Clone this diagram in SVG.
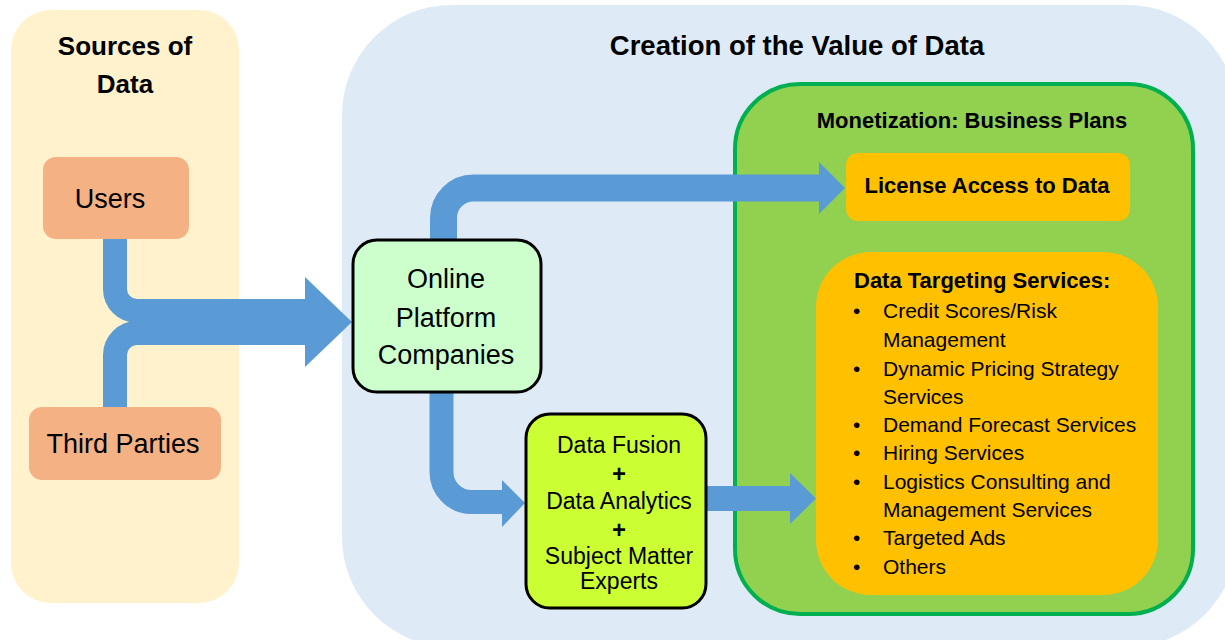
<svg xmlns="http://www.w3.org/2000/svg" width="1225" height="640" viewBox="0 0 1225 640">
<defs>
<style>
text{font-family:"Liberation Sans",Arial,sans-serif;fill:#000}
.t{font-weight:bold;text-anchor:middle}
.n{font-size:27px;text-anchor:middle}
.f{font-size:23px;text-anchor:middle}
.p{font-size:24px;font-weight:bold;text-anchor:middle}
.b{font-size:21px}
.arr{fill:none;stroke:#5B9BD5}
.head{fill:#5B9BD5}
</style>
</defs>
<rect width="1225" height="640" fill="#FFFFFF"/>
<g id="sources-panel">
<rect x="11" y="10" width="228" height="593" rx="40" fill="#FFF2CC"/>
<text class="t" x="125" y="55" font-size="26">Sources of</text>
<text class="t" x="125" y="93" font-size="26">Data</text>
</g>
<g id="creation-panel">
<rect x="342" y="5" width="895" height="642" rx="110" fill="#DEEBF7"/>
<text class="t" x="797" y="55" font-size="27.5">Creation of the Value of Data</text>
</g>
<g id="monetization-panel">
<rect x="735" y="84" width="458" height="530" rx="65" fill="#92D050" stroke="#00B050" stroke-width="4"/>
<text class="t" x="972" y="128" font-size="22">Monetization: Business Plans</text>
</g>
<g id="connectors">
<path class="arr" stroke-width="24" d="M115 239 V289 A22 22 0 0 0 137 311 H310"/>
<path class="arr" stroke-width="24" d="M115 407 V355 A22 22 0 0 1 137 333 H310"/>
<polygon class="head" points="305,277 352,322 305,367"/>
<path class="arr" stroke-width="27" d="M443.5 239 V218 A30 30 0 0 1 473.5 188 H822"/>
<polygon class="head" points="819,162 845,188 819,214"/>
<path class="arr" stroke-width="24" d="M441.5 393 V472 A30 30 0 0 0 471.5 502 H505"/>
<polygon class="head" points="502,480 525,503 502,527"/>
<rect x="707" y="486" width="86" height="25" fill="#5B9BD5"/>
<polygon class="head" points="790,473 816,498.5 790,524"/>
</g>
<g id="users">
<rect x="43" y="157" width="146" height="82" rx="13" fill="#F4B183"/>
<text class="n" x="110" y="208">Users</text>
</g>
<g id="third-parties">
<rect x="29" y="407" width="192" height="73" rx="13" fill="#F4B183"/>
<text class="n" x="123" y="453">Third Parties</text>
</g>
<g id="online-platform">
<rect x="353" y="240" width="188" height="152" rx="24" fill="#CCFFCC" stroke="#000" stroke-width="3"/>
<text class="n" x="446" y="288">Online</text>
<text class="n" x="446" y="327">Platform</text>
<text class="n" x="446" y="364">Companies</text>
</g>
<g id="data-fusion">
<rect x="526" y="414" width="180" height="194" rx="24" fill="#CCFF33" stroke="#000" stroke-width="3"/>
<text class="f" x="619" y="453">Data Fusion</text>
<text class="p" x="619" y="482">+</text>
<text class="f" x="619" y="509">Data Analytics</text>
<text class="p" x="619" y="538">+</text>
<text class="f" x="619" y="564">Subject Matter</text>
<text class="f" x="619" y="589">Experts</text>
</g>
<g id="license-access">
<rect x="846" y="153" width="284" height="68" rx="12" fill="#FFC000"/>
<text class="t" x="987" y="193" font-size="22">License Access to Data</text>
</g>
<g id="data-targeting">
<rect x="816" y="252" width="342" height="343" rx="55" fill="#FFC000"/>
<text x="854" y="288" font-size="22" font-weight="bold">Data Targeting Services:</text>
<g class="b">
<text x="853" y="318">•</text><text x="883" y="318">Credit Scores/Risk</text>
<text x="883" y="347">Management</text>
<text x="853" y="376">•</text><text x="883" y="376">Dynamic Pricing Strategy</text>
<text x="883" y="404">Services</text>
<text x="853" y="432">•</text><text x="883" y="432">Demand Forecast Services</text>
<text x="853" y="460">•</text><text x="883" y="460">Hiring Services</text>
<text x="853" y="489">•</text><text x="883" y="489">Logistics Consulting and</text>
<text x="883" y="517">Management Services</text>
<text x="853" y="545">•</text><text x="883" y="545">Targeted Ads</text>
<text x="853" y="574">•</text><text x="883" y="574">Others</text>
</g>
</g>
</svg>
